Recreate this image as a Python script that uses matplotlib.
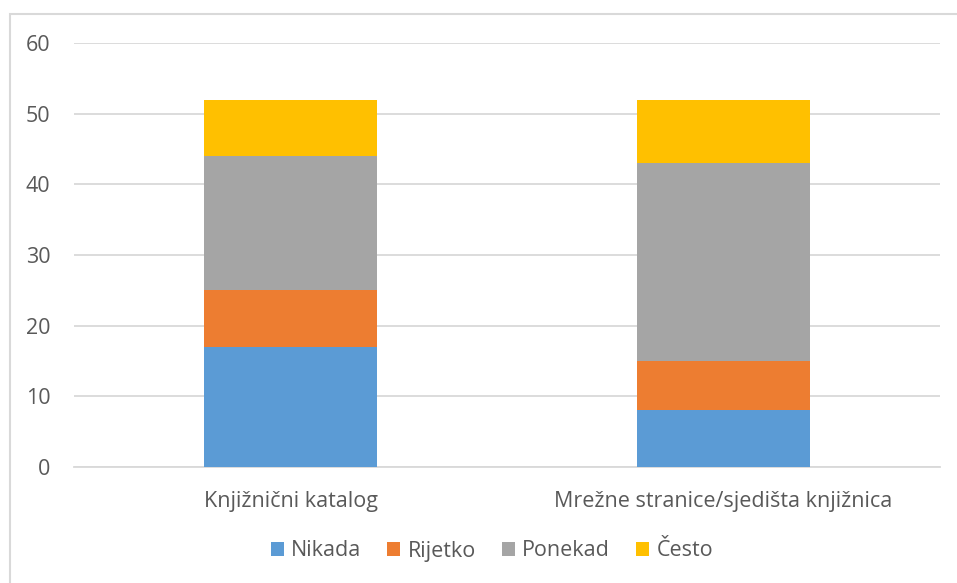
import numpy as np
import matplotlib
matplotlib.use("Agg")
import matplotlib.pyplot as plt
from matplotlib.patches import Rectangle

CATEGORIES = ["Knjižnični katalog", "Mrežne stranice/sjedišta knjižnica"]
SERIES = ["Nikada", "Rijetko", "Ponekad", "Često"]
NIKADA = [17, 8]
RIJETKO = [8, 7]
PONEKAD = [19, 28]
CESTO = [8, 9]
COLORS = ["#5b9bd5", "#ed7d31", "#a5a5a5", "#ffc000"]

plt.rcParams["font.family"] = ["Open Sans", "DejaVu Sans"]
TXT = "#595959"
GRID = "#d9d9d9"

fig = plt.figure(figsize=(9.57, 5.83), dpi=100)
ax = fig.add_axes([74 / 957, 1 - 467 / 583, 866 / 957, 424 / 583])

x = np.arange(len(CATEGORIES))
bottom = np.zeros(len(CATEGORIES))
for name, vals, col in zip(SERIES, [NIKADA, RIJETKO, PONEKAD, CESTO], COLORS):
    ax.bar(x, vals, 0.4, bottom=bottom, color=col, label=name, zorder=3)
    bottom += np.array(vals)

ax.set_xlim(-0.5, 1.5)
ax.set_ylim(0, 60)
ax.set_yticks(range(0, 61, 10))
ax.set_xticks(x)
ax.set_xticklabels(CATEGORIES)
ax.grid(axis="y", color=GRID, lw=1.3, zorder=0)
for s in ["top", "right", "left"]:
    ax.spines[s].set_visible(False)
ax.spines["bottom"].set_color(GRID)
ax.spines["bottom"].set_linewidth(1.3)
ax.tick_params(length=0, colors=TXT, labelsize=15.5)
ax.tick_params(axis="y", pad=17)
ax.tick_params(axis="x", pad=17)

fig.legend(loc="center", bbox_to_anchor=(492 / 957, 1 - 551 / 583), ncol=4, frameon=False,
           fontsize=15.5, labelcolor=TXT, handlelength=0.6, handleheight=0.6,
           handletextpad=0.35, columnspacing=1.2)

# chart-area border (extends past the right/bottom edges)
fig.patches.append(Rectangle((10 / 957, -0.05), 1.0, 1 - 14 / 583 + 0.05,
                             transform=fig.transFigure, fill=False,
                             edgecolor=GRID, lw=1.5))

fig.savefig("out.png", dpi=100)
